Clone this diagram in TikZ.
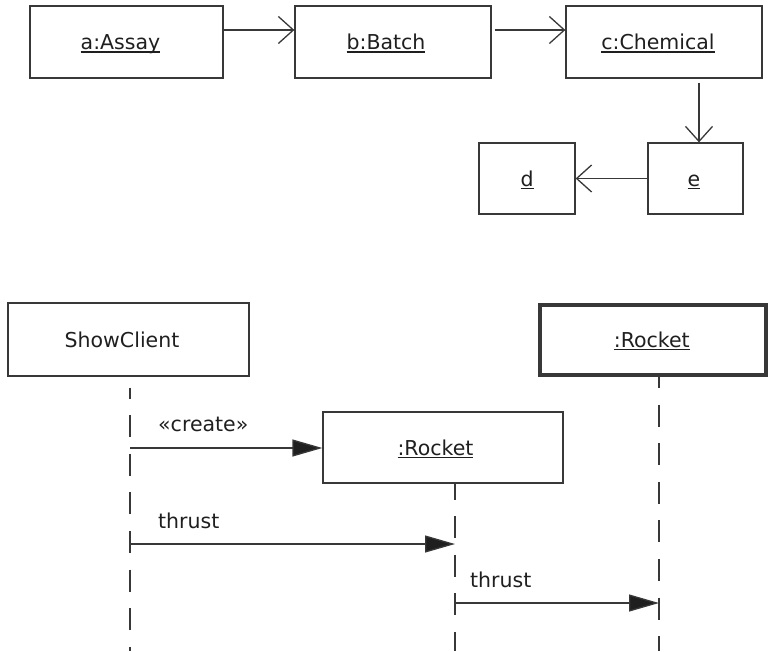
\documentclass[tikz,border=0pt]{standalone}
\usepackage{fontspec}
\setmainfont{DejaVu Sans}
\usetikzlibrary{arrows.meta}
\definecolor{linec}{gray}{0.22}
\definecolor{textc}{gray}{0.12}
\newcommand{\myul}[1]{\sbox0{#1}\rlap{\rule[-3pt]{\wd0}{1.2pt}}\usebox0}
\newcommand{\lsh}[2]{#2\hspace*{#1}}
\begin{document}
\begin{tikzpicture}[x=1pt,y=-1pt,
  txt/.style={text=textc, font=\fontsize{20.5}{24}\selectfont},
  obj/.style={txt, draw=linec, line width=1.3pt, inner sep=0pt, text height=15pt, text depth=0pt},
  heavy/.style={obj, line width=4pt},
  link/.style={draw=linec, line width=1.3pt, -{Straight Barb[length=15pt,width=27pt,line width=1.3pt]}},
  msg/.style={draw=linec, line width=1.3pt, -{Triangle[length=30pt,width=17pt,fill=textc]}},
  life/.style={draw=linec, line width=1.3pt, dash pattern=on 22pt off 16.6pt},
  lbl/.style={txt, inner sep=0pt, anchor=base west}]
\useasboundingbox (0,0) rectangle (768,651);
% top collaboration diagram
\node[obj, minimum width=193pt, minimum height=72pt] (a) at (126.5,42) {\lsh{12pt}{\myul{a:Assay}}};
\node[obj, minimum width=196pt, minimum height=72pt] (b) at (393,42) {\lsh{14pt}{\myul{b:Batch}}};
\node[obj, minimum width=196pt, minimum height=72pt] (c) at (664,42) {\lsh{12pt}{\myul{c:Chemical}}};
\node[obj, minimum width=96pt, minimum height=71pt] (d) at (527,178.5) {\myul{d}};
\node[obj, minimum width=95pt, minimum height=71pt] (e) at (695.5,178.5) {\lsh{3pt}{\myul{e}}};
\draw[link] ([yshift=12pt]a.east) -- ([yshift=12pt]b.west);
\draw[link] ([xshift=3pt,yshift=12pt]b.east) -- ([yshift=12pt]c.west);
\draw[link] ([xshift=35pt,yshift=-4pt]c.south) -- ([xshift=35pt]c.south |- e.north);
\draw[link] (e.west) -- (d.east);
% sequence diagram
\node[obj, minimum width=241pt, minimum height=73pt] (sc) at (128.5,339.5) {\lsh{13pt}{ShowClient}};
\node[obj, minimum width=240pt, minimum height=71pt] (r1) at (443,447.5) {\lsh{15pt}{\myul{:Rocket}}};
\node[heavy, minimum width=226.5pt, minimum height=70.5pt] (r2) at (652.75,339.75) {\lsh{2pt}{\myul{:Rocket}}};
% lifelines
\coordinate (l1end) at (130,651);
\coordinate (l2end) at (455,651);
\coordinate (l3end) at (659,651);
\draw[life, dash phase=11pt] ([xshift=1.5pt,yshift=-11pt]sc.south) -- (l1end);
\draw[life, dash phase=6pt] ([xshift=12pt]r1.south) -- (l2end);
\draw[life, dash phase=11pt] ([xshift=6.25pt]r2.south) -- (l3end);
% message points on lifelines
\coordinate (m1s) at (130,448);
\coordinate (m2s) at (130,544);
\coordinate (m2e) at (455,544);
\coordinate (m3s) at (455,603);
\coordinate (m3e) at (659,603);
\draw[msg] (m1s) -- (m1s -| r1.west);
\draw[msg] (m2s) -- (m2e);
\draw[msg] (m3s) -- (m3e);
\node[lbl] (t1) at (158,431.5) {«create»};
\node[lbl] (t2) at (158,528) {thrust};
\node[lbl] (t3) at (470,587) {thrust};
\end{tikzpicture}
\end{document}
